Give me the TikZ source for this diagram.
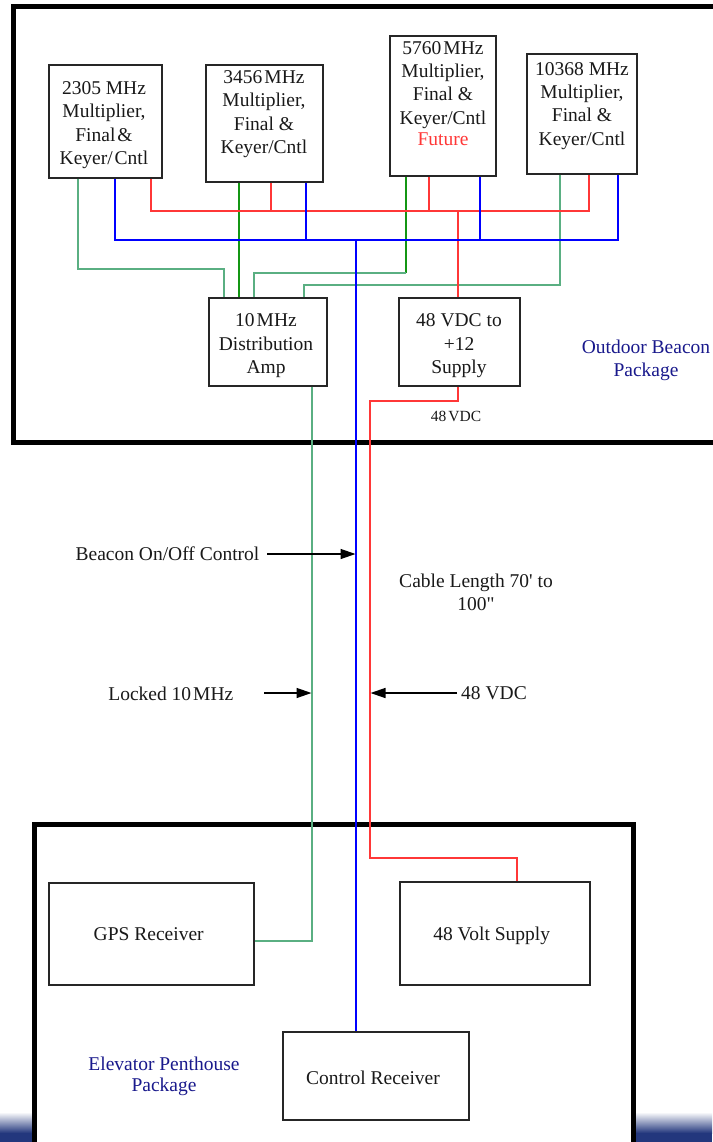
\documentclass[tikz,border=0pt]{standalone}
\usepackage{fontspec}
\setmainfont{Liberation Serif}[Ligatures=TeXOff]
\usetikzlibrary{arrows.meta,calc}
\definecolor{seafoam}{RGB}{90,175,130}
\definecolor{dgreen}{RGB}{20,150,20}
\definecolor{wred}{RGB}{255,55,55}
\definecolor{wblue}{RGB}{0,0,255}
\definecolor{navytxt}{RGB}{25,25,140}
\definecolor{band}{RGB}{35,55,125}
\begin{document}
\begin{tikzpicture}[x=1pt,y=-1pt,
  box/.style={draw=black!85, line width=1.3pt, fill=white, inner sep=0pt},
  frame/.style={draw=black, line width=5pt},
  wire/.style={line width=1.2pt},
  txt/.style={font=\fontsize{19.5}{23.3}\selectfont, align=center, inner sep=0pt, text=black!90},
  pkg/.style={txt, text=navytxt},
  small/.style={font=\fontsize{15.5}{18}\selectfont, inner sep=0pt, text=black!90},
  arr/.style={line width=1.4pt, -{Triangle[length=15pt,width=10pt]}}]
\useasboundingbox (0,0) rectangle (712,1142);
\fill[white] (0,0) rectangle (712,1142);
% bottom band
\shade[top color=white, bottom color=band] (0,1112) rectangle (712,1133);
\fill[band] (0,1133) rectangle (712,1142);
% package frames
\draw[frame] (740,6.5) -- (13,6.5) -- (13,442) -- (740,442);
\filldraw[frame, fill=white] (34.5,1160) -- (34.5,824) -- (633,824) -- (633,1160);
% boxes
\newcommand\boxat[5]{\node[box, minimum width={#4-#2}, minimum height={#5-#3}] (#1) at ({(#2+#4)/2},{(#3+#5)/2}) {};}
\boxat{b2305}{49}{65}{162}{178}
\boxat{b3456}{206}{65}{323}{182}
\boxat{b5760}{390}{36}{496}{176}
\boxat{b10368}{527}{54}{637}{174}
\boxat{amp}{209}{298}{327}{386}
\boxat{sup}{399}{298}{520}{386}
\boxat{gps}{49}{883}{254}{985}
\boxat{vsup}{400}{882}{590}{985}
\boxat{ctrl}{283}{1032}{469}{1120}
% box texts
\node[txt, anchor=north] (t2305) at (104,78) {\strut 2305 MHz\\Multiplier,\\Final\hspace{2pt}\&\\Keyer/\hspace{2pt}Cntl};
\node[txt, anchor=north] (t3456) at (264,67) {\strut 3456\hspace{2pt}MHz\\Multiplier,\\Final \&\\Keyer/Cntl};
\node[txt, anchor=north] (t5760) at (443,37.7) {\strut 5760\hspace{2pt}MHz\\Multiplier,\\Final \&\\Keyer/Cntl\\[-1.8pt]\textcolor{wred}{Future}};
\node[txt, anchor=north] (t10368) at (582,58.7) {\strut 10368 MHz\\Multiplier,\\Final \&\\Keyer/Cntl};
\node[txt, anchor=north] (tamp) at (266,310.4) {\strut 10\hspace{2pt}MHz\\Distribution\\Amp};
\node[txt, anchor=north] (tsup) at (459,310.4) {\strut 48 VDC to\\+12\\Supply};
\node[pkg, anchor=north] (tout) at (646,337) {\strut Outdoor Beacon\\Package};
\node[txt, anchor=base] (tgps) at (148.7,940) {GPS Receiver};
\node[txt, anchor=base] (tvsup) at (491.7,940) {48 Volt Supply};
\node[txt, anchor=base] (tctrl) at (373,1084) {Control Receiver};
\node[pkg, anchor=north] (telev) at (164,1054.4) {\strut Elevator Penthouse\\[-2.3pt]Package};
\node[small, anchor=base] (t48s) at (456,421.7) {48\hspace{2pt}VDC};
% wires: green
\draw[wire, seafoam] (78,0 |- b2305.south) |- (224,269) -- (224,0 |- amp.north);
\draw[wire, dgreen] (239,0 |- b3456.south) -- (239,0 |- amp.north);
\draw[wire, dgreen] (406,0 |- b5760.south) -- (406,273) coordinate (g5760);
\draw[wire, seafoam] (g5760) -- (254,273) -- (254,0 |- amp.north);
\draw[wire, seafoam] (560,0 |- b10368.south) |- (304,285) -- (304,0 |- amp.north);
\draw[wire, seafoam] (312,0 |- amp.south) |- (gps.east |- 0,941);
% red
\draw[wire, wred] (151,0 |- b2305.south) |- (589,211) -- (589,0 |- b10368.south);
\draw[wire, wred] (271,0 |- b3456.south) -- (271,211);
\draw[wire, wred] (429,0 |- b5760.south) -- (429,211);
\draw[wire, wred] (458,211) -- (458,0 |- sup.north);
\draw[wire, wred] (458,0 |- sup.south) |- (370,401) -- (370,858) -| (517,0 |- vsup.north);
% blue
\draw[wire, wblue] (115,0 |- b2305.south) |- (618,240) -- (618,0 |- b10368.south);
\draw[wire, wblue] (306,0 |- b3456.south) -- (306,240);
\draw[wire, wblue] (480,0 |- b5760.south) -- (480,240);
\draw[wire, wblue] (356,240) -- (356,0 |- ctrl.north);
% cable labels
\node[txt, anchor=base] (lbeacon) at (167.5,560.7) {Beacon On/Off Control};
\node[txt, anchor=north] (lcable) at (476,570.7) {\strut Cable Length 70' to\\100"};
\node[txt, anchor=base] (llocked) at (170.8,700) {Locked 10\hspace{2pt}MHz};
\node[txt, anchor=base] (l48) at (494,699) {48 VDC};
\coordinate (aBs) at (267,554);
\coordinate (aBe) at (355.5,554);
\coordinate (aLs) at (264,693);
\coordinate (aLe) at (311.5,693);
\coordinate (aVs) at (457,693);
\coordinate (aVe) at (370.5,693);
\draw[arr] (aBs) -- (aBe);
\draw[arr] (aLs) -- (aLe);
\draw[arr] (aVs) -- (aVe);
\end{tikzpicture}
\end{document}
